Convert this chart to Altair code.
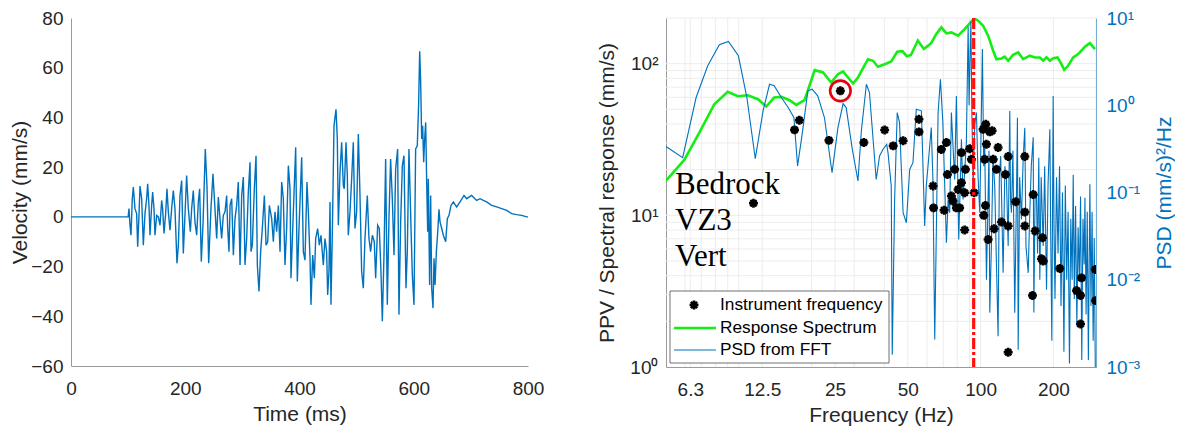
import altair as alt
import pandas as pd

# ---------------- Left panel: velocity time history ----------------
trace_quiet = [(0, 0), (100, 0)]
trace_a = [(101.5, 3.3), (103.3, -3.4), (105, -7.4), (107.3, 7.3), (109.1, 12), (112, 3.3), (114.9, 1.3),
           (116.7, -12), (119, 0.6), (120.8, 12.4), (123.7, 7.3), (126.6, -11.4), (129.5, 1.3), (132.4, 7.3),
           (134.2, 13.3), (136.5, 4.6), (138.3, -7.4), (141.2, 4.6), (142.9, 10), (145.3, 3.3), (147, -7.4),
           (150, 0.6), (152.9, 0), (155.8, -3.4), (158.7, 6.6), (160.4, 3.3), (162.8, -6.7), (165.7, 1.3),
           (168, 11.3), (170.4, 2), (173.3, -5.4), (176.2, 3.3), (179.1, 10.6), (182, 3.3), (185.5, -18.7),
           (187.9, -11.4), (190.8, 8.6), (193.7, 14.6), (196.6, -14.7), (199.5, 0.6), (202.4, 16.6), (205.4, 3.3),
           (208.9, -6), (211.2, 3.3), (214.1, 10.6), (217, -2), (220, -7.4), (222.9, 6), (225.2, 11.3),
           (228.1, -18), (231, -3.4), (235.1, 27.3), (238, 12.6), (241, -18.7), (245, 3.3), (248.5, 17.3),
           (252, 3.3), (255, -8.7), (257.9, 8), (260.8, -0.7), (263.7, -8.7), (266.6, 0.6)]
trace_b = [(269.6, 2), (272.5, 8.6), (274.3, -4.7), (276.6, -14), (278.4, 4.6), (281.3, 7.3), (284.2, -15.4),
           (287.1, -0.7), (290, 4.6), (292.9, 14), (295.9, -19.4), (298.8, 8.6), (301.7, 16), (304.6, -19.4),
           (307.5, -8.7), (310.4, 10), (313.4, 22), (315.1, -14), (317.4, -11.4), (320.9, 11.3), (323.9, 24.6),
           (326.2, -19.4), (329.1, -30), (332, -14), (334.9, -4.7), (338.5, 8.6), (341.4, -11.4), (344.3, -10),
           (347.2, 4.6), (351.3, -0.7), (354.2, -10), (357.1, 2), (360, -6), (363, 4.6), (365.9, -14),
           (368.8, 14), (371.7, 7.3), (374.6, -19.4), (377.5, -4.7), (380.5, 20.6), (383.4, 11.3), (385.1, -24.7),
           (389.2, 2), (393.3, 28), (396.2, -26), (399.1, -4.7), (403.8, 24), (406.7, -14), (409.6, -17.4),
           (413.1, 14), (415.5, 2), (418.4, -16.7), (420.1, -35.4), (423.1, -15.4), (426, -24.7), (428.3, -8.7),
           (431.8, -4.7), (434.7, -11.4), (437.6, -7.4), (441.7, -19.4)]
trace_c = [(444.6, -8.7), (447.5, -14), (449.3, -31.4), (451.6, -22), (453.4, 6), (455.1, -35.4), (457.4, -7.4),
           (460.4, 36.6), (463.9, 43.3), (466.2, 31.3), (468, -3.4), (470.9, 18), (473.8, 30), (476.7, 12.6),
           (478.4, 11.3), (481.4, 30), (483.7, 16.6), (485.4, -7.4), (488.4, 2), (491.3, 15.3), (494.2, 30),
           (497.1, -4.7), (500, 2), (503, 33.3), (505.9, 8.6), (508.8, -22), (511.7, -28.7), (514.6, -8.7),
           (518.7, 8.6), (521.6, -8.7), (524.5, -14), (527.5, -7.4), (530.9, -10), (533.3, -24.7), (536.8, -3.4),
           (539.7, -4.7), (542.6, -22), (545, -42), (547.9, -15.4), (550.8, 23.3), (553.7, -35.4), (556.6, -0.7),
           (559.5, 23.3), (562.5, 7.3), (565.4, -15.4), (568.3, 19.3), (571.8, 27.3), (574.1, -39.4), (577.1, -2),
           (580, 20.6), (582.9, 24.6), (586.4, -28.7), (588.7, -14), (591.6, 27.3), (595.1, -3.4), (597.5, -23.3),
           (600.4, -35.4), (603.3, 27.3)]
trace_d = [(606.2, 28.6), (608.5, 45), (610.4, 66.6), (612.1, 54), (613.9, 31.3), (615.6, 36.6), (617.4, 22),
           (619.1, 31.3), (620.9, 38), (622.6, 14), (624.4, -6), (625.5, 15.3), (627.8, -27.4), (629.6, 8.6),
           (631.4, -28.7), (633.7, -36.7), (635.5, -16.7), (637.3, -27.4), (639.6, -14), (642, -6), (644.2, 3),
           (646, -2), (648.9, -4.7), (651.8, -7.4), (655.9, -10), (658.8, -0.7), (661.7, 0.6), (665.2, 4.6),
           (669.3, 6), (675.1, 4), (681, 6), (688, 8.6), (692.6, 7.3), (701.4, 8.6), (710.1, 6.6), (716, 7.3),
           (721.8, 6.6), (727.6, 6), (736.4, 4.6), (745.2, 4), (753.9, 3.3), (762.7, 2.6), (771.4, 1.3),
           (780.2, 0.9), (788.9, 0.6), (797.7, 0), (800, 0)]

time_ticks = [0, 200, 400, 600, 800]
velocity_ticks = [-60, -40, -20, 0, 20, 40, 60, 80]

# ---------------- Right panel: spectra ----------------
response_spectrum = [(5.0, 16.9), (5.95, 23.2), (6.87, 35.1), (7.92, 54.0), (9.0, 65.2), (9.9, 61.0), (10.9, 61.9),
                     (12.0, 58.3), (13.0, 52.2), (14.0, 59.8), (15.0, 60.4), (16.2, 57.4), (17.3, 53.5), (18.7, 57.4),
                     (19.6, 71.5), (20.6, 90.6), (22.3, 87.5), (24.1, 75.1), (25.7, 85.2), (27.0, 88.8), (28.3, 81.1),
                     (29.7, 74.0), (31.1, 81.1), (34.2, 107), (35.9, 104.5), (37.6, 95.4), (40.1, 99.2),
                     (42.7, 103.4), (45.2, 120), (47.5, 121), (49.5, 112), (51.5, 114), (55.0, 142), (58.2, 125),
                     (60.5, 131), (62.5, 137), (65.6, 157), (68.8, 173.4), (72.2, 158.3), (75.7, 160.7),
                     (80.7, 152.9), (85.9, 169), (91.6, 190), (94.0, 198.9), (97.6, 192), (102.4, 178),
                     (107.4, 152.9), (112.7, 121.7), (116.3, 107), (121.9, 108.2), (125.8, 111.1), (130, 104.5),
                     (136.3, 114.5), (143, 118.6), (150, 107), (159.7, 112.8), (167.5, 109.9), (175.7, 109.9),
                     (181.5, 104.5), (187.3, 109.9), (193.3, 104.5), (199.6, 108.7), (208, 109.9), (216, 99.2),
                     (221.6, 91.1), (230, 96.8), (241.5, 109.9), (253.3, 115.6), (270, 129.3), (283, 136.6),
                     (297, 124.7)]

psd_low = [(5.0, 0.336), (5.86, 0.251), (6.66, 1.226), (7.44, 2.834), (8.31, 4.94), (9.06, 5.39), (9.96, 3.69),
           (10.8, 1.226), (11.7, 0.244), (12.6, 0.862), (13.4, 1.74), (14.0, 1.67), (15.0, 1.226), (16.0, 0.941),
           (16.9, 0.723), (17.5, 0.2015), (18.2, 0.426), (19.3, 1.464), (20.1, 1.527), (21.2, 1.282),
           (22.6, 0.723), (24.3, 0.169), (25.7, 0.555), (27.0, 1.046), (27.8, 0.941), (29.4, 0.327),
           (31.1, 0.1355), (32.1, 0.5), (33.7, 1.74), (34.7, 1.40), (37.0, 0.141), (38.2, 0.262), (39.5, 0.313),
           (40.9, 0.356), (41.4, 0.286), (42.7, 0.119), (43.1, 0.00138), (44.1, 0.0834), (45.2, 0.824),
           (46.2, 0.632), (47.8, 0.0586), (49.3, 0.045), (50.9, 0.184), (52.5, 0.22), (54.2, 0.9), (56.9, 0.863),
           (58.7, 0.0412), (59.6, 0.119), (60.6, 0.201), (62.5, 0.555), (63.5, 0.141), (64.6, 0.00206),
           (66.7, 0.824), (68.2, 1.99), (69.8, 0.632), (72.2, 0.0265), (73.4, 0.0834), (74.5, 0.0586),
           (75.7, 0.824), (78.1, 0.141), (79.4, 1.28), (81.2, 0.029), (83.3, 0.407), (84.6, 0.0834),
           (87.3, 0.373), (88.8, 8.0), (89.6, 1.0), (90.4, 3.5), (91.2, 9.1), (91.9, 0.98), (93.1, 0.119),
           (94.5, 0.6), (96.1, 0.824), (97.6, 0.15), (99.2, 0.0586)]
psd_high = [(101.7, 4.4), (103.0, 0.2), (104.0, 0.342), (105.7, 0.01), (107.4, 0.0912), (108.3, 0.3),
            (109.1, 0.0042), (110.8, 0.0243), (112.5, 0.25), (114.4, 0.119), (116.0, 0.02), (118.1, 0.00225),
            (119.5, 0.15), (121.1, 0.262), (123.9, 0.012), (126.0, 0.2), (127.9, 0.141), (130.0, 0.0243),
            (132.0, 0.86), (133.0, 0.08), (134.1, 0.0586), (136.0, 0.3), (138.4, 0.0042), (140.6, 0.0834),
            (142.0, 0.72), (143.0, 0.00158), (145.0, 0.15), (147.5, 0.049), (150.0, 0.25), (152.3, 0.55),
            (154.0, 0.0243), (157.3, 0.012), (159.7, 0.0586), (162.0, 0.2), (165.0, 0.43), (166.0, 0.0042),
            (168.0, 0.1), (170.2, 0.0912), (172.0, 0.02), (174.0, 0.25), (175.7, 0.01), (178.0, 0.15),
            (181.5, 0.0243), (184.0, 0.2), (187.3, 0.0077), (190.0, 0.12), (193.3, 0.53), (195.0, 0.03),
            (197.0, 0.002), (199.5, 1.28), (201.0, 0.05), (203.0, 0.006), (206.0, 0.15), (209.0, 0.02),
            (212.0, 0.2), (215.0, 0.005), (218.0, 0.1), (221.0, 0.0015), (224.0, 0.12), (227.0, 0.01),
            (230.0, 0.06), (233.0, 0.0011), (236.0, 0.05), (239.0, 0.01), (241.5, 0.16), (244.0, 0.006),
            (247.0, 0.07), (250.0, 0.003), (253.0, 0.04), (256.0, 0.01), (259.0, 0.09), (262.0, 0.0012),
            (265.0, 0.05), (268.0, 0.015), (270.0, 0.087), (273.0, 0.004), (276.0, 0.06), (279.0, 0.0012),
            (283.0, 0.124), (286.0, 0.005), (289.0, 0.06), (292.0, 0.002), (295.0, 0.03), (298.0, 0.001)]

instrument_points = [(11.5, 12.0), (17.0, 36.6), (17.8, 42.4), (23.6, 31.2), (26.3, 66.2), (32.9, 30.2),
                     (40.1, 36.5), (43.5, 28.7), (47.8, 31.0), (55.6, 43.0), (55.6, 35.5), (63.6, 15.6),
                     (63.9, 11.2), (70.6, 10.8), (68.8, 27.2), (72.2, 30.2), (83.3, 25.9), (78.1, 20.1),
                     (72.9, 18.6), (75.7, 13.4), (76.9, 12.4), (79.4, 11.2), (81.9, 11.2), (80.7, 14.8),
                     (83.3, 16.4), (85.9, 14.1), (86.5, 20.1), (90.1, 27.5), (91.6, 23.4), (94.0, 14.1),
                     (85.9, 8.0), (102.4, 36.9), (105.0, 39.8), (109.1, 35.5), (111.6, 36.1), (105.7, 29.4),
                     (104.0, 23.4), (112.7, 23.4), (116.3, 20.1), (118.1, 28.0), (130, 24.4), (126.7, 18.6),
                     (104.7, 11.6), (103.0, 10.0), (113.7, 8.15), (107.4, 6.93), (122, 9.03), (130, 8.5),
                     (152.3, 24.4), (165.0, 13.7), (152.3, 10.5), (181.5, 4.99), (178.5, 5.17), (163.9, 2.96),
                     (130, 1.25), (168.1, 7.88), (180.2, 7.11), (152.3, 8.5), (139.7, 12.3), (212.6, 4.46),
                     (249.3, 3.19), (258.9, 2.96), (258.9, 1.92), (261.4, 3.87), (298, 4.39), (299, 2.74)]
circled_point = [(26.3, 66.2)]
dominant_freq = [93.6]

freq_ticks = [6.3, 12.5, 25, 50, 100, 200]
freq_minor = [6, 7, 8, 9, 10, 20, 30, 40, 60, 70, 80, 90, 300]
ppv_grid = [2, 3, 4, 5, 6, 7, 8, 9, 10, 20, 30, 40, 50, 60, 70, 80, 90, 100, 200]
ppv_ticks = [1, 10, 100]
psd_ticks = [0.001, 0.01, 0.1, 1, 10]
annotation_lines = ["Bedrock", "VZ3", "Vert"]
legend_labels = ["Instrument frequency", "Response Spectrum", "PSD from FFT"]

FONT = "Liberation Sans"
TXT = "#262626"
AXC = "#9a9a9a"
BLUE = "#0072BD"
GREEN = "#14EE14"
GRID = "#ececec"
ASTERISK = "M0,-1L0,1M-1,0L1,0M-0.7,-0.7L0.7,0.7M-0.7,0.7L0.7,-0.7"

# ---- left chart ----
vel = pd.DataFrame(trace_quiet + trace_a + trace_b + trace_c + trace_d, columns=["t", "v"])
left = alt.Chart(vel).mark_line(color=BLUE, strokeWidth=1.4).encode(
    x=alt.X("t:Q", scale=alt.Scale(domain=[0, 800], nice=False),
            axis=alt.Axis(values=time_ticks, title="Time (ms)", labelPadding=13, titlePadding=5)),
    y=alt.Y("v:Q", scale=alt.Scale(domain=[-60, 80], nice=False),
            axis=alt.Axis(values=velocity_ticks, title="Velocity (mm/s)", titlePadding=0)),
).properties(width=457, height=348)

# ---- right chart ----
W, H = 430, 349
xs = alt.Scale(type="log", domain=[5, 300], nice=False)
yl = alt.Scale(type="log", domain=[1, 200], nice=False)
yr = alt.Scale(type="log", domain=[0.001, 10], nice=False)
x_ax = alt.Axis(values=freq_ticks, format="~g", title="Frequency (Hz)", labelPadding=13, titlePadding=5)
yl_ax = alt.Axis(orient="left", values=ppv_ticks, title="PPV / Spectral response (mm/s)", titlePadding=12,
                 labelExpr="datum.value < 5 ? '10⁰' : datum.value < 50 ? '10¹' : '10²'")
yr_ax = alt.Axis(orient="right", values=psd_ticks, title="PSD (mm/s)²/Hz",
                 labelExpr="datum.value < 0.002 ? '10⁻³' : datum.value < 0.02 ? '10⁻²' : "
                           "datum.value < 0.2 ? '10⁻¹' : datum.value < 2 ? '10⁰' : '10¹'",
                 labelColor=BLUE, titleColor=BLUE, domainColor=BLUE, labelPadding=10, titlePadding=14,
                 titleAngle=270, titleBaseline="top")

vgrid = pd.DataFrame({"f": freq_ticks + freq_minor})
hgrid = pd.DataFrame({"v": ppv_grid})
green_df = pd.DataFrame(response_spectrum, columns=["f", "v"])
psd_df = pd.DataFrame(psd_low + psd_high, columns=["f", "p"])
pts_df = pd.DataFrame(instrument_points, columns=["f", "v"])
circ_df = pd.DataFrame(circled_point, columns=["f", "v"])
red_df = pd.DataFrame({"f": dominant_freq})
one = pd.DataFrame({"k": [0]})

vgrid_l = alt.Chart(vgrid).mark_rule(color=GRID, strokeWidth=1).encode(
    x=alt.X("f:Q", scale=xs, axis=x_ax), y=alt.value(0), y2=alt.value(H))
hgrid_l = alt.Chart(hgrid).mark_rule(color=GRID, strokeWidth=1).encode(
    y=alt.Y("v:Q", scale=yl, axis=yl_ax), x=alt.value(0), x2=alt.value(W))
green_l = alt.Chart(green_df).mark_line(color=GREEN, strokeWidth=2.6, clip=True).encode(
    x=alt.X("f:Q", scale=xs, axis=x_ax), y=alt.Y("v:Q", scale=yl, axis=yl_ax))
groupA = alt.layer(vgrid_l, hgrid_l, green_l)

blue_l = alt.Chart(psd_df).mark_line(color=BLUE, strokeWidth=1.1, clip=True).encode(
    x=alt.X("f:Q", scale=xs, axis=x_ax), y=alt.Y("p:Q", scale=yr, axis=yr_ax))

pts_l = alt.Chart(pts_df).mark_point(shape=ASTERISK, size=80, filled=False, color="black",
                                     strokeWidth=2.6, opacity=1, clip=True).encode(
    x=alt.X("f:Q", scale=xs, axis=x_ax), y=alt.Y("v:Q", scale=yl, axis=None))
circ_l = alt.Chart(circ_df).mark_point(shape="circle", size=420, filled=False, color="#E8000B",
                                       strokeWidth=2.6, opacity=1).encode(
    x=alt.X("f:Q", scale=xs, axis=x_ax), y=alt.Y("v:Q", scale=yl, axis=None))
red_l = alt.Chart(red_df).mark_rule(color="#FF1010", strokeWidth=3.2, strokeDash=[11, 3, 3, 3]).encode(
    x=alt.X("f:Q", scale=xs, axis=x_ax), y=alt.value(0), y2=alt.value(H))

ann = []
for txt, yy in zip(annotation_lines, [176, 212, 248]):
    ann.append(alt.Chart(one).mark_text(text=txt, align="left", baseline="alphabetic",
                                        font="Liberation Serif", fontSize=31, color="black").encode(
        x=alt.value(9), y=alt.value(yy)))

leg = [
    alt.Chart(one).mark_rect(fill="white", stroke="#4d4d4d", strokeWidth=0.8).encode(
        x=alt.value(4), x2=alt.value(223), y=alt.value(273), y2=alt.value(345)),
    alt.Chart(one).mark_point(shape=ASTERISK, size=80, filled=False, color="black", strokeWidth=2.6,
                              opacity=1).encode(x=alt.value(28), y=alt.value(287)),
    alt.Chart(one).mark_rule(color=GREEN, strokeWidth=2.6).encode(
        x=alt.value(8), x2=alt.value(50), y=alt.value(310)),
    alt.Chart(one).mark_rule(color=BLUE, strokeWidth=1.1).encode(
        x=alt.value(8), x2=alt.value(50), y=alt.value(332)),
]
for txt, yy in zip(legend_labels, [287, 310, 332]):
    leg.append(alt.Chart(one).mark_text(text=txt, align="left", baseline="middle", font=FONT,
                                        fontSize=17.3, color="black").encode(
        x=alt.value(54), y=alt.value(yy)))

groupC = alt.layer(pts_l, circ_l, red_l, *ann, *leg)

right = alt.layer(groupA, blue_l, groupC).resolve_scale(y="independent").properties(width=W, height=H)

chart = alt.hconcat(left, right, spacing=52).properties(
    padding={"left": 9, "top": 9, "right": 0, "bottom": 2}
).configure_axis(
    labelFont=FONT, titleFont=FONT, labelFontSize=19, titleFontSize=21, titleFontWeight="normal",
    labelColor=TXT, titleColor=TXT, domainColor=AXC, domainWidth=1, ticks=False, grid=False,
    labelFlush=False, labelOverlap=False, labelPadding=8, titlePadding=5
).configure_view(stroke=None)

chart.save("out.html", embed_options={"renderer": "svg", "actions": False})
